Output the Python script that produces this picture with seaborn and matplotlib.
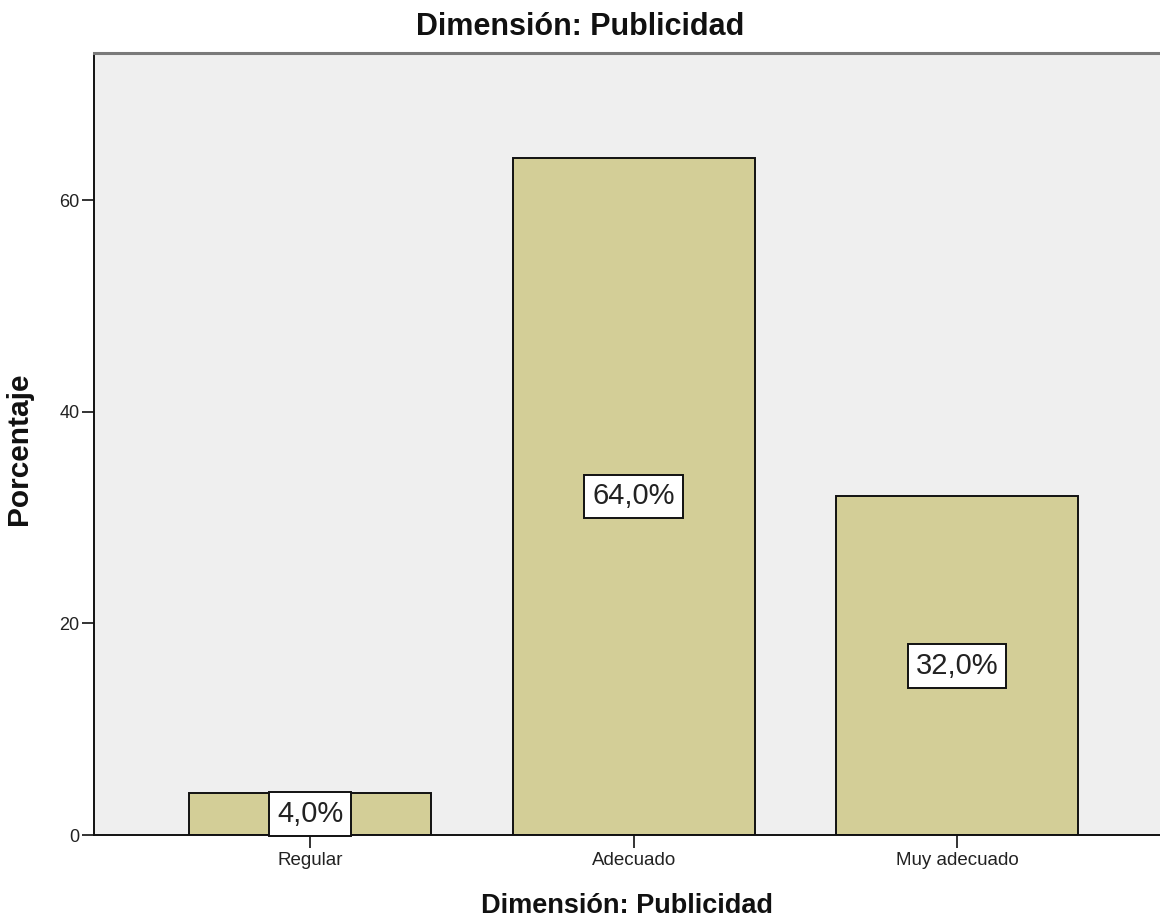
import matplotlib
matplotlib.use("Agg")
import matplotlib.pyplot as plt
import seaborn as sns
import pandas as pd

categories = ["Regular", "Adecuado", "Muy adecuado"]
percentages = [4.0, 64.0, 32.0]
y_ticks = [0, 20, 40, 60]
title_text = "Dimensión: Publicidad"
x_label = "Dimensión: Publicidad"
y_label = "Porcentaje"

sns.set_style("white")
plt.rcParams["font.family"] = ["Liberation Sans", "DejaVu Sans"]

df = pd.DataFrame({"categoria": categories, "porcentaje": percentages})

fig = plt.figure(figsize=(11.6, 9.17), dpi=100)
ax = fig.add_axes([0.081, 0.0894, 0.919, 0.8526])
ax.set_facecolor("#efefef")

sns.barplot(data=df, x="categoria", y="porcentaje", order=categories,
            color="#d3ce97", saturation=1, edgecolor="#111111",
            linewidth=1.4, width=0.748, ax=ax, zorder=2)

ax.set_xlim(-0.668, 2.627)
ax.set_ylim(0, 73.9)
ax.set_yticks(y_ticks)
ax.set_yticklabels([str(t) for t in y_ticks])

# value labels in white boxes centred on each bar's half height
for i, v in enumerate(percentages):
    ax.text(i, v / 2, f"{v:.1f}".replace(".", ",") + "%",
            ha="center", va="center", fontsize=21, color="#222222",
            bbox=dict(boxstyle="square,pad=0.27", facecolor="white",
                      edgecolor="#111111", linewidth=1.4), zorder=5)

for side in ["left", "bottom"]:
    ax.spines[side].set_color("#111111")
    ax.spines[side].set_linewidth(1.4)
ax.spines["top"].set_color("#7a7a7a")
ax.spines["top"].set_linewidth(2.2)
ax.spines["right"].set_visible(False)

ax.tick_params(axis="y", which="major", direction="out", length=8.5,
               width=1.2, color="#111111", pad=2, labelsize=13,
               labelcolor="#222222", left=True)
ax.tick_params(axis="x", which="major", direction="out", length=9,
               width=1.2, color="#111111", pad=3, labelsize=13.5,
               labelcolor="#222222", bottom=True)

ax.set_xlabel(x_label, fontsize=19.5, fontweight="bold", color="#111111")
ax.set_ylabel(y_label, fontsize=21.5, fontweight="bold", color="#111111")
ax.xaxis.set_label_coords(0.5, -0.074)
ax.yaxis.set_label_coords(-0.057, 0.494)

fig.text(0.5, 0.9706, title_text, ha="center", va="center",
         fontsize=22, fontweight="bold", color="#111111")

fig.savefig("out.png", dpi=100)
